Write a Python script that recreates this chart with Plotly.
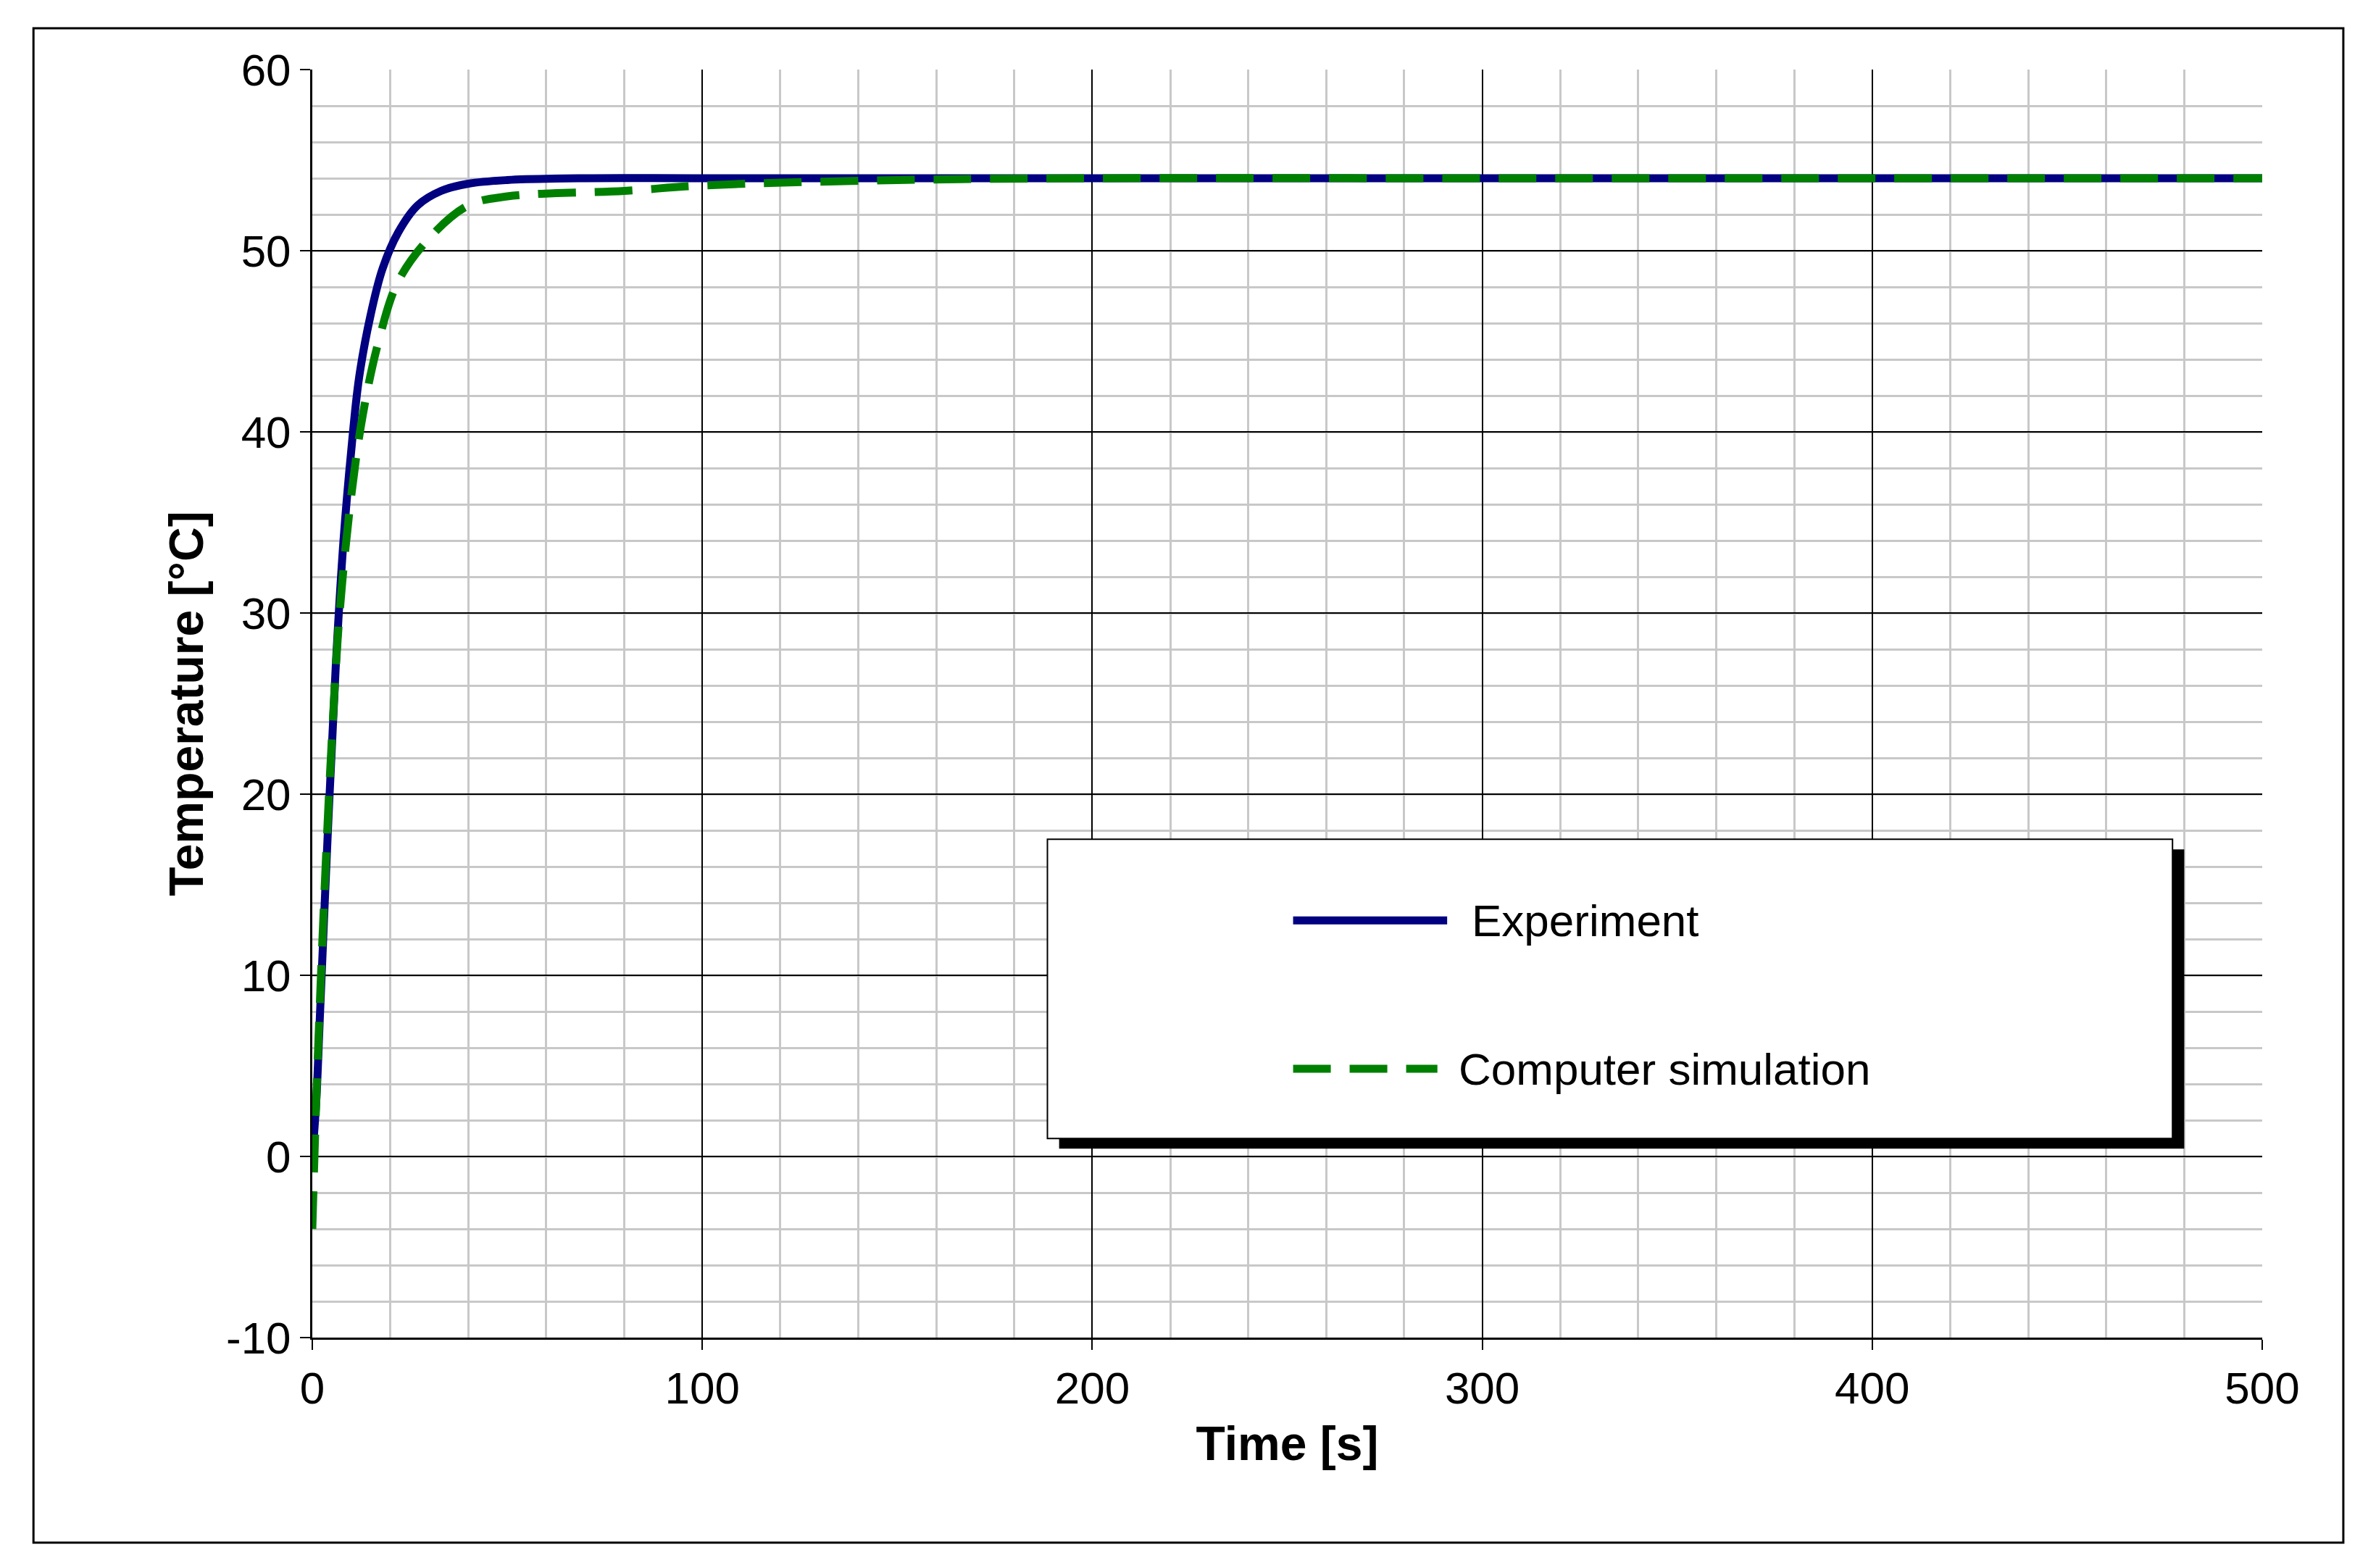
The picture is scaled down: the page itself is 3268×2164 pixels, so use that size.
import plotly.graph_objects as go

exp_t = [0, 1, 2, 4, 6, 8, 10, 12, 15, 18, 22, 27, 33, 40, 50, 70, 100, 200, 300, 400, 500]
exp_T = [0, 3, 8, 18, 27, 34, 39, 43, 46.5, 49, 51, 52.5, 53.3, 53.7, 53.9, 54, 54, 54, 54, 54, 54]
sim_t = [0, 1, 3, 5, 7, 10, 13, 17, 22, 30, 40, 50, 80, 100, 150, 200, 300, 400, 500]
sim_T = [-4, 3, 14, 23, 30, 36.5, 41, 45, 48.3, 50.7, 52.5, 53, 53.3, 53.6, 53.9, 54, 54, 54, 54]
y_ticks = [-10, 0, 10, 20, 30, 40, 50, 60]
y_labels = ["-10", "0", "10", "20", "30", "40", "50", "60"]

fig = go.Figure()
fig.add_trace(go.Scatter(x=exp_t, y=exp_T, mode="lines", name="Experiment",
                         line=dict(color="#000080", width=11, shape="spline")))
fig.add_trace(go.Scatter(x=sim_t, y=sim_T, mode="lines", name="Computer simulation",
                         line=dict(color="#008000", width=11, dash="52px,26px", shape="spline")))

font = "Liberation Sans, Arial, sans-serif"
ax = dict(showline=True, linecolor="black", linewidth=3, mirror=False,
          gridcolor="black", gridwidth=2, zeroline=False,
          tickfont=dict(size=62, family=font, color="black"),
          ticks="outside", ticklen=14, tickcolor="black", tickwidth=2)
fig.update_xaxes(range=[0, 500], dtick=100, **ax,
                 minor=dict(dtick=20, showgrid=True, gridcolor="#c8c8c8", gridwidth=3),
                 title=dict(text="<b>Time [s]</b>", font=dict(size=66, family=font, color="black"), standoff=20))
fig.update_yaxes(range=[-10, 60], tickvals=y_ticks, ticktext=y_labels, **ax,
                 minor=dict(dtick=2, showgrid=True, gridcolor="#c8c8c8", gridwidth=3),
                 title=dict(text="<b>Temperature [°C]</b>", font=dict(size=66, family=font, color="black"), standoff=10))

shapes = [
    dict(type="rect", xref="paper", yref="paper", x0=0.383, x1=0.960, y0=0.149, y1=0.385,
         fillcolor="black", line=dict(width=0), layer="above"),
    dict(type="rect", xref="paper", yref="paper", x0=0.377, x1=0.954, y0=0.157, y1=0.393,
         fillcolor="white", line=dict(color="black", width=2), layer="above"),
    dict(type="rect", xref="paper", yref="paper", x0=-0.143, x1=1.0416, y0=-0.1617, y1=1.0326,
         line=dict(color="black", width=3), layer="above"),
    dict(type="line", xref="paper", yref="paper", x0=0.503, x1=0.582, y0=0.329, y1=0.329,
         line=dict(color="#000080", width=11), layer="above"),
    dict(type="line", xref="paper", yref="paper", x0=0.503, x1=0.577, y0=0.212, y1=0.212,
         line=dict(color="#008000", width=11, dash="52px,26px"), layer="above"),
]
annotations = [
    dict(text="Experiment", xref="paper", yref="paper", x=0.594, y=0.329, xanchor="left",
         yanchor="middle", showarrow=False, font=dict(size=62, family=font, color="black")),
    dict(text="Computer simulation", xref="paper", yref="paper", x=0.587, y=0.212, xanchor="left",
         yanchor="middle", showarrow=False, font=dict(size=62, family=font, color="black")),
]
fig.update_layout(
    width=3268, height=2164, margin=dict(l=423, r=154, t=88, b=326),
    paper_bgcolor="white", plot_bgcolor="white", shapes=shapes, annotations=annotations,
    showlegend=False,
)
fig.write_html("out.html")
